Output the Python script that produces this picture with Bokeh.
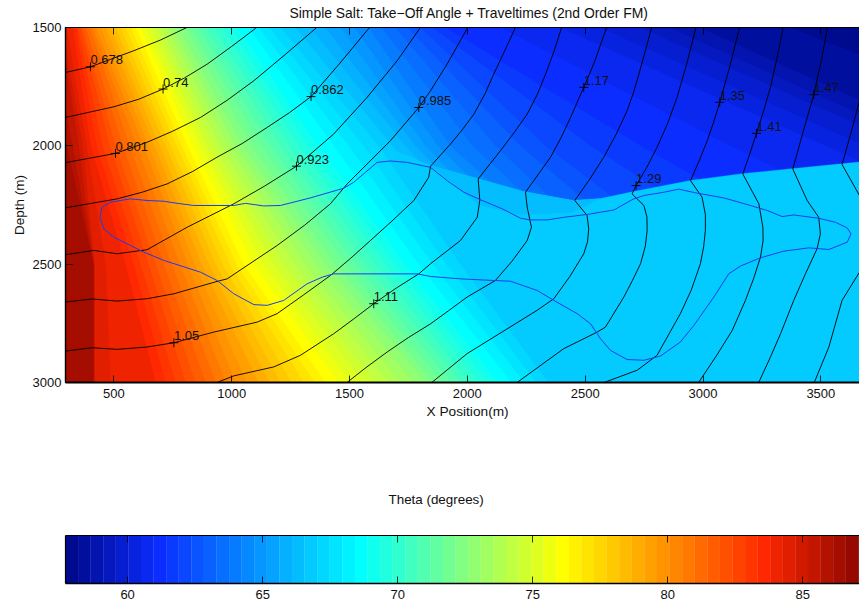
from bokeh.plotting import figure
from bokeh.layouts import column
from bokeh.models import Range1d, LinearAxis, FixedTicker, Title
from bokeh.core.properties import value
from bokeh.embed import file_html
from bokeh.resources import INLINE
import numpy as np

FONT = "Liberation Sans"
TITLE = "Simple Salt: Take\u2212Off Angle + Traveltimes (2nd Order FM)"
XLABEL = "X Position(m)"
YLABEL = "Depth (m)"
CB_TITLE = "Theta (degrees)"
X_TICKS = [500, 1000, 1500, 2000, 2500, 3000, 3500]
Y_TICKS = [1500, 2000, 2500, 3000]
CB_TICKS = [60, 65, 70, 75, 80, 85]

# Colour map stops (index in a 64-step map, r, g, b)
CM_I = [0, 7, 23, 31, 39, 55, 63]
CM_R = [0, 12, 0, 130, 255, 255, 135]
CM_G = [10, 45, 255, 255, 255, 40, 5]
CM_B = [143, 255, 255, 130, 0, 0, 0]
CB_MIN = 57.7
CB_STEP = 0.466

# Angle band boundaries: X (m) of each of bands 1..63 at four depths
BAND_DEPTHS = [1500, 2000, 2500, 3000]
BAND_X_1500 = [3371,2989,2862,2735,2565,2395,2141,1907,1852,1801,1746,1695,1636,1580,1521,1462,1398,1334,1271,1207,1160,1114,1071,1025,991,957,923,889,859,829,804,774,749,728,702,681,660,634,613,592,571,549,528,507,486,465,443,422,409,397,380,367,358,346,337,324,299,282,274,231,189,100,100]
BAND_X_2000 = [4644,4092,3965,3859,3689,3520,3116,2735,2522,2331,2225,2119,2022,1928,1873,1822,1780,1737,1682,1623,1559,1496,1432,1368,1326,1288,1245,1207,1165,1126,1084,1046,1016,986,952,923,893,868,838,812,787,766,740,719,694,672,647,626,596,566,537,507,482,452,426,401,384,367,350,324,299,100,100]
BAND_X_2500 = [5959,5535,5323,5111,4898,4686,4156,3626,3307,2989,2819,2650,2565,2480,2395,2310,2247,2183,2077,1971,1911,1852,1793,1737,1695,1653,1610,1568,1525,1483,1440,1398,1356,1309,1266,1220,1177,1135,1092,1050,1020,991,961,931,902,872,842,812,779,745,711,677,647,613,583,549,465,418,414,414,414,100,100]
BAND_X_3000 = [7232,6808,6596,6384,6171,5959,5323,4686,4262,3838,3626,3413,3244,3074,2947,2819,2735,2650,2497,2344,2293,2242,2187,2132,2090,2051,2009,1971,1933,1894,1856,1822,1771,1716,1665,1610,1559,1504,1453,1398,1351,1305,1254,1207,1160,1114,1063,1016,974,931,889,846,804,762,719,677,486,418,414,414,414,100,100]
SALT_BAND = 19
SHADE_BAND = 18

# Flat region under the sharp ridge
FLAT_X = [1695,1844,2043,2238,2450,2565,2705,2947,3172,3384,3596,3732,3732,2344,1971]
FLAT_Y = [2020,2083,2138,2193,2231,2223,2193,2146,2117,2096,2075,2062,3000,3000,2500]
# Slightly lower angle patch just under the ridge
SHADE_X = [1844,2043,2238,2450,2565,2440,2225,2050]
SHADE_Y = [2083,2138,2193,2231,2223,2282,2290,2250]

# Travel-time contours
C0678_X = [295,401,585,698,810]
C0678_Y = [1690,1666,1598,1553,1500]
C074_X = [295,500,606,709,800,896,1000,1101,1106]
C074_Y = [1880,1835,1803,1760,1713,1655,1580,1504,1500]
C0801_X = [295,507,641,750,868,980,1094,1230,1361]
C0801_Y = [2071,2032,1985,1938,1880,1808,1725,1612,1500]
C0862_X = [295,514,620,726,835,938,1045,1151,1245,1337,1460,1585]
C0862_Y = [2262,2224,2196,2161,2108,2048,1990,1922,1860,1792,1650,1500]
C0923_X = [295,415,514,641,811,1009,1140,1275,1433,1575,1702,1801]
C0923_Y = [2460,2442,2456,2439,2344,2245,2170,2086,1950,1795,1641,1500]
C0985_X = [295,408,514,641,755,938,981,1193,1310,1419,1490,1674,1794,1844,1914,2002]
C0985_Y = [2660,2647,2656,2646,2625,2573,2562,2421,2335,2245,2161,1978,1838,1767,1655,1500]
C105_X = [295,408,514,641,755,924,1108,1193,1305,1419,1505,1589,1680,1773,1836,1844,1929,1980,2028,2075,2112,2158,2204]
C105_Y = [2867,2853,2860,2850,2832,2787,2745,2709,2630,2548,2475,2400,2318,2231,2133,2086,1992,1930,1866,1780,1697,1600,1500]
C111_X = [925,1009,1179,1292,1433,1520,1603,1700,1794,1844,1971,2042,2053,2046,2141,2198,2254,2296,2332,2368,2400]
C111_Y = [3005,2972,2934,2885,2794,2730,2667,2600,2541,2498,2400,2302,2231,2140,2020,1945,1866,1785,1697,1600,1500]
C117_X = [1483,1570,1660,1750,1844,1920,1999,2119,2190,2254,2272,2254,2247,2300,2353,2398,2438,2494,2519,2544,2568,2591]
C117_Y = [3005,2937,2871,2810,2752,2697,2639,2569,2487,2400,2344,2259,2196,2122,2048,1965,1880,1753,1695,1634,1565,1500]
C123_X = [1843,1999,2150,2296,2367,2435,2494,2510,2515,2508,2456,2520,2579,2632,2678,2705,2728,2755,2782]
C123_Y = [3005,2878,2785,2695,2646,2552,2456,2405,2351,2294,2231,2140,2048,1950,1852,1775,1697,1600,1500]
C129_X = [2204,2409,2551,2586,2664,2700,2735,2755,2763,2762,2749,2699,2716,2762,2805,2850,2890,2932,2970]
C129_Y = [3005,2857,2787,2766,2639,2570,2498,2425,2358,2300,2252,2203,2168,2090,2006,1905,1795,1650,1500]
C135_X = [2580,2721,2805,2904,2950,2989,3003,3010,3010,2996,2947,2985,3018,3045,3071,3115,3155]
C135_Y = [3000,2948,2885,2709,2610,2498,2425,2358,2290,2217,2147,2060,1978,1900,1816,1660,1500]
C141_X = [2978,3055,3124,3180,3215,3244,3255,3254,3237,3169,3198,3227,3258,3286,3315,3340]
C141_Y = [3005,2890,2780,2653,2560,2470,2400,2344,2245,2119,2035,1947,1850,1753,1625,1500]
C147_X = [3234,3285,3329,3385,3435,3484,3498,3491,3442,3381,3425,3470,3502,3528]
C147_Y = [3005,2895,2794,2653,2540,2435,2372,2302,2231,2098,1940,1784,1640,1500]
C154_X = [3470,3534,3590,3664,3739,3767,3664,3590,3628,3664,3698,3727]
C154_Y = [3005,2850,2653,2534,2442,2316,2210,2079,1945,1809,1655,1500]

# Salt body outline
SALT_X = [441,450,486,571,641,712,769,839,1009,1059,1136,1207,1334,1476,1518,1617,1674,1745,1844,1914,1985,2056,2148,2226,2268,2339,2409,2508,2622,2706,2749,2834,2897,2975,3088,3201,3272,3336,3385,3491,3562,3612,3628,3612,3534,3449,3343,3244,3159,3109,3046,2961,2904,2820,2749,2678,2607,2565,2523,2466,2367,2296,2183,2112,1971,1844,1787,1433,1384,1320,1221,1151,1094,1009,938,868,712,627,500,458,441]
SALT_Y = [2302,2259,2238,2224,2231,2234,2243,2252,2252,2243,2254,2252,2220,2179,2154,2070,2064,2070,2091,2147,2196,2228,2266,2306,2313,2313,2302,2290,2271,2224,2210,2196,2183,2200,2220,2252,2273,2299,2292,2306,2323,2347,2372,2407,2438,2431,2445,2473,2508,2541,2639,2759,2829,2888,2906,2903,2864,2815,2752,2709,2653,2611,2572,2569,2562,2552,2541,2541,2555,2583,2653,2674,2671,2625,2569,2534,2484,2449,2386,2351,2302]

# Contour labels
MARK_TEXT = ["0.678","0.74","0.801","0.862","0.923","0.985","1.05","1.11","1.17","1.29","1.35","1.41","1.47"]
MARK_X = [401,709,507,1337,1275,1794,755,1603,2494,2716,3071,3227,3470]
MARK_Y = [1666,1760,2032,1792,2086,1838,2832,2667,1753,2168,1816,1947,1784]

steps = np.arange(64)
r = np.interp(steps, CM_I, CM_R).astype(int)
g = np.interp(steps, CM_I, CM_G).astype(int)
b = np.interp(steps, CM_I, CM_B).astype(int)
PALETTE = ["#%02x%02x%02x" % (a, c, d) for a, c, d in zip(r, g, b)]


def style_axis(ax, ticks, size="13px", standoff=6, blank=False, width=1.0):
    ax.ticker = FixedTicker(ticks=ticks)
    ax.major_tick_in = 7
    ax.major_tick_out = 0
    ax.minor_tick_line_color = None
    ax.major_tick_line_color = "black"
    ax.major_tick_line_width = 0.8
    ax.axis_line_color = "black"
    ax.axis_line_width = width
    ax.major_label_text_font = FONT
    ax.major_label_text_font_size = size
    ax.major_label_text_color = "#111111"
    ax.major_label_standoff = standoff
    if blank:
        ax.major_label_overrides = {t: "" for t in ticks}


def make_title(text, offset, standoff, size="13px", valign="bottom"):
    return Title(text=text, align="left", offset=offset, standoff=standoff, text_font=FONT,
                 vertical_align=valign, text_font_size=size, text_font_style="normal", text_color="#111111")


W = 859
p = figure(width=W, height=450, x_range=Range1d(295, 3664), y_range=Range1d(3000, 1500),
           x_axis_type=None, y_axis_type=None, output_backend="svg", toolbar_location=None,
           min_border_left=65, min_border_right=0, min_border_top=27, min_border_bottom=68,
           background_fill_color=PALETTE[0], border_fill_color="white", margin=(0, 0, 0, 0))
p.outline_line_color = None
p.grid.visible = False

for k in range(1, 64):
    row = k - 1
    xs = [BAND_X_1500[row], BAND_X_2000[row], BAND_X_2500[row], BAND_X_3000[row], -500, -500]
    ys = BAND_DEPTHS + [3000, 1500]
    p.patch(xs, ys, fill_color=PALETTE[k], line_color=PALETTE[k], line_width=0.3)
    if k == SALT_BAND:
        p.patch(FLAT_X, FLAT_Y, fill_color=PALETTE[k], line_color=PALETTE[k], line_width=0.3)
        p.patch(SHADE_X, SHADE_Y, fill_color=PALETTE[SHADE_BAND], line_color=PALETTE[SHADE_BAND], line_width=0.3)

for cx, cy in [(C0678_X, C0678_Y), (C074_X, C074_Y), (C0801_X, C0801_Y), (C0862_X, C0862_Y),
               (C0923_X, C0923_Y), (C0985_X, C0985_Y), (C105_X, C105_Y), (C111_X, C111_Y),
               (C117_X, C117_Y), (C123_X, C123_Y), (C129_X, C129_Y), (C135_X, C135_Y),
               (C141_X, C141_Y), (C147_X, C147_Y), (C154_X, C154_Y)]:
    p.line(cx, cy, line_color="black", line_width=0.9, line_join="round")

p.line(SALT_X, SALT_Y, line_color="#1a3cf0", line_width=1.0, line_join="round")
p.scatter(MARK_X, MARK_Y, marker="cross", size=9, line_color="black", line_width=0.9)
p.text(MARK_X, MARK_Y, text=MARK_TEXT, text_font=value(FONT), text_font_size="13px",
       text_color="#111111", text_baseline="middle", text_align="left", y_offset=-7)

bottom = LinearAxis()
style_axis(bottom, X_TICKS, width=2.0)
p.add_layout(bottom, "below")
p.add_layout(make_title(XLABEL, 361, 2, "13.7px"), "below")
top = LinearAxis()
style_axis(top, X_TICKS, blank=True, width=1.2)
p.add_layout(top, "above")
p.add_layout(make_title(TITLE, 224, 9, "13.9px", "top"), "above")
left = LinearAxis(axis_label=YLABEL)
style_axis(left, Y_TICKS, standoff=4, width=1.4)
left.axis_label_text_font = FONT
left.axis_label_text_font_size = "13.5px"
left.axis_label_text_font_style = "normal"
left.axis_label_text_color = "#111111"
left.axis_label_standoff = 3
p.add_layout(left, "left")

# Colour bar
cb_left = [CB_MIN + k * CB_STEP for k in range(64)]
cb_right = [CB_MIN + (k + 1) * CB_STEP for k in range(64)]
q = figure(width=W, height=152, x_range=Range1d(57.7, 87.1), y_range=Range1d(0, 1),
           x_axis_type=None, y_axis_type=None, output_backend="svg", toolbar_location=None,
           min_border_left=65, min_border_right=0, min_border_top=85, min_border_bottom=19,
           border_fill_color="white", margin=(0, 0, 0, 0))
q.outline_line_color = None
q.grid.visible = False
q.quad(left=cb_left, right=cb_right, bottom=0, top=1, fill_color=PALETTE, line_color=PALETTE, line_width=0.3)
b2 = LinearAxis()
style_axis(b2, CB_TICKS, width=1.6)
q.add_layout(b2, "below")
t2 = LinearAxis()
style_axis(t2, CB_TICKS, blank=True, width=1.2)
q.add_layout(t2, "above")
q.add_layout(make_title(CB_TITLE, 323, 57, "13.4px"), "above")
l2 = LinearAxis()
style_axis(l2, [], width=1.2)
q.add_layout(l2, "left")

layout = column(p, q, spacing=0)
open("out.html", "w").write(file_html(layout, INLINE))
